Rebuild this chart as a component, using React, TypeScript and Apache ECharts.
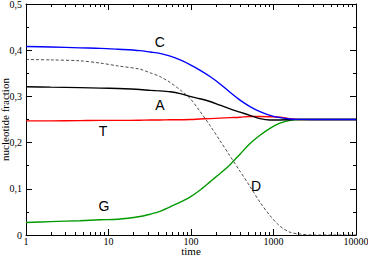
import React, { useEffect, useRef } from "react";
import * as echarts from "echarts";

const times = [1, 2, 4.5, 8, 13, 24, 32, 42, 56, 74, 97, 128, 170, 225, 297, 393, 519, 686, 907, 1200, 1585, 2100, 3000, 10000];
const seriesC = [0.408, 0.407, 0.405, 0.404, 0.402, 0.399, 0.396, 0.393, 0.387, 0.379, 0.369, 0.357, 0.343, 0.327, 0.309, 0.292, 0.278, 0.267, 0.259, 0.254, 0.251, 0.2502, 0.25, 0.25];
const seriesA = [0.321, 0.32, 0.319, 0.318, 0.317, 0.315, 0.313, 0.312, 0.31, 0.306, 0.3, 0.295, 0.289, 0.281, 0.273, 0.266, 0.259, 0.252, 0.249, 0.249, 0.2495, 0.25, 0.25, 0.25];
const seriesT = [0.247, 0.247, 0.2475, 0.248, 0.248, 0.2485, 0.249, 0.249, 0.2495, 0.2495, 0.25, 0.251, 0.252, 0.253, 0.254, 0.255, 0.2565, 0.2565, 0.256, 0.255, 0.2515, 0.25, 0.25, 0.25];
const seriesG = [0.027, 0.029, 0.031, 0.033, 0.034, 0.04, 0.045, 0.051, 0.061, 0.071, 0.082, 0.097, 0.115, 0.133, 0.152, 0.175, 0.198, 0.216, 0.231, 0.242, 0.248, 0.25, 0.25, 0.25];
const seriesD = [0.38, 0.379, 0.377, 0.372, 0.366, 0.359, 0.351, 0.343, 0.33, 0.314, 0.296, 0.268, 0.237, 0.204, 0.171, 0.138, 0.105, 0.071, 0.042, 0.019, 0.006, 0.002, 0, 0];

const xMajorTicks = [1, 10, 100, 1000, 10000];
const xMinorTicks = [2, 3, 4, 5, 6, 7, 8, 9, 20, 30, 40, 50, 60, 70, 80, 90, 200, 300, 400, 500, 600, 700, 800, 900, 2000, 3000, 4000, 5000, 6000, 7000, 8000, 9000];

const curveLabels = [
  { name: "C", at: [42, 0.418] },
  { name: "A", at: [42, 0.281] },
  { name: "T", at: [8.6, 0.225] },
  { name: "G", at: [8.8, 0.063] },
  { name: "D", at: [614, 0.106] },
];

const serif = "'Times New Roman', 'Liberation Serif', serif";
const sans = "'Liberation Sans', Arial, sans-serif";

function zip(vals: number[]) {
  return times.map((t, i) => [t, vals[i]]);
}

function labelFor(name: string) {
  const l = curveLabels.find((c) => c.name === name)!;
  return {
    symbol: "circle",
    symbolSize: 0,
    silent: true,
    label: { show: true, position: "inside", formatter: name, color: "#000", fontSize: 14, fontFamily: sans },
    data: [{ coord: l.at }],
  };
}

export default function App() {
  const ref = useRef<HTMLDivElement>(null);
  useEffect(() => {
    const chart = echarts.init(ref.current!, null, { renderer: "svg" });
    const axisLine = { show: true, lineStyle: { color: "#000", width: 1 } };
    const xBase = { type: "log", logBase: 10, min: 1, max: 10000, splitLine: { show: false } };
    chart.setOption({
      animation: false,
      backgroundColor: "#fff",
      textStyle: { fontFamily: serif },
      grid: { left: 26, right: 12, top: 4, bottom: 21, containLabel: false, outerBoundsMode: "none" },
      xAxis: [
        {
          ...xBase,
          position: "bottom",
          axisLine,
          axisTick: { show: true, inside: true, length: 6, customValues: xMajorTicks, lineStyle: { color: "#000" } },
          axisLabel: { customValues: xMajorTicks, formatter: (v: number) => String(v), color: "#000", fontSize: 10, fontFamily: serif, margin: 1 },
          name: "time",
          nameLocation: "middle",
          nameGap: 10.5,
          nameMoveOverlap: false,
          nameTextStyle: { color: "#000", fontSize: 11, fontFamily: serif },
        },
        {
          ...xBase,
          position: "bottom",
          axisLine: { show: false },
          axisTick: { show: true, inside: true, length: 3, customValues: xMinorTicks, lineStyle: { color: "#000" } },
          axisLabel: { show: false },
        },
        {
          ...xBase,
          position: "top",
          axisLine,
          axisTick: { show: true, inside: true, length: 6, customValues: xMajorTicks, lineStyle: { color: "#000" } },
          axisLabel: { show: false },
        },
        {
          ...xBase,
          position: "top",
          axisLine: { show: false },
          axisTick: { show: true, inside: true, length: 3, customValues: xMinorTicks, lineStyle: { color: "#000" } },
          axisLabel: { show: false },
        },
      ],
      yAxis: [
        {
          type: "value",
          min: 0,
          max: 0.5,
          interval: 0.1,
          position: "left",
          axisLine,
          splitLine: { show: false },
          axisTick: { show: true, inside: true, length: 6, lineStyle: { color: "#000" } },
          minorTick: { show: true, splitNumber: 2, length: 3, lineStyle: { color: "#000" } },
          axisLabel: {
            formatter: (v: number) => (v === 0 ? "0" : v.toFixed(1).replace(".", ",")),
            color: "#000",
            fontSize: 10,
            fontFamily: serif,
            margin: 4,
          },
          name: "nucleotide fraction",
          nameLocation: "middle",
          nameGap: 15.5,
          nameMoveOverlap: false,
          nameTextStyle: { color: "#000", fontSize: 11, fontFamily: serif },
        },
        {
          type: "value",
          min: 0,
          max: 0.5,
          interval: 0.1,
          position: "right",
          axisLine,
          splitLine: { show: false },
          axisTick: { show: true, inside: true, length: 6, lineStyle: { color: "#000" } },
          minorTick: { show: true, splitNumber: 2, length: 3, lineStyle: { color: "#000" } },
          axisLabel: { show: false },
        },
      ],
      series: [
        { type: "line", data: zip(seriesD), showSymbol: false, smooth: 0.3, lineStyle: { color: "#222", width: 0.8, type: [3, 2] }, markPoint: labelFor("D") },
        { type: "line", data: zip(seriesT), showSymbol: false, smooth: 0.3, lineStyle: { color: "#ff0000", width: 1.4 }, markPoint: labelFor("T") },
        { type: "line", data: zip(seriesG), showSymbol: false, smooth: 0.3, lineStyle: { color: "#009a00", width: 1.4 }, markPoint: labelFor("G") },
        { type: "line", data: zip(seriesA), showSymbol: false, smooth: 0.3, lineStyle: { color: "#000", width: 1.4 }, markPoint: labelFor("A") },
        { type: "line", data: zip(seriesC), showSymbol: false, smooth: 0.3, lineStyle: { color: "#0000ff", width: 1.4 }, markPoint: labelFor("C") },
      ],
    });
    return () => chart.dispose();
  }, []);
  return <div ref={ref} style={{ position: "fixed", left: 0, top: 0, width: 368, height: 256 }} />;
}
